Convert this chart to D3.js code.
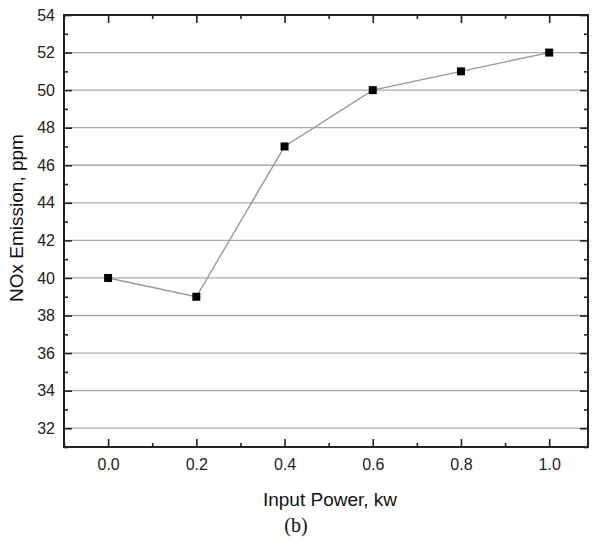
<!DOCTYPE html>
<html><head><meta charset="utf-8">
<script src="https://cdn.jsdelivr.net/npm/d3@7"></script>
<style>body{margin:0;background:#fff}svg{display:block}</style>
</head><body>
<script>
const powers = [0.0, 0.2, 0.4, 0.6, 0.8, 1.0];
const nox = [40, 39, 47, 50, 51, 52];
const xTicks = [0.0, 0.2, 0.4, 0.6, 0.8, 1.0];
const xMinor = [-0.1, 0.1, 0.3, 0.5, 0.7, 0.9];
const yTicks = [32, 34, 36, 38, 40, 42, 44, 46, 48, 50, 52, 54];
const yMinor = [31, 33, 35, 37, 39, 41, 43, 45, 47, 49, 51, 53];

const W = 594, H = 543;
const L = 64, R = 588, T = 15, B = 447;
const svg = d3.select("body").append("svg").attr("width", W).attr("height", H);
const x = d3.scaleLinear().domain([-0.1, 1.088]).range([L, R]);
const y = d3.scaleLinear().domain([31, 54]).range([B, T]);

// gridlines
svg.append("g").selectAll("line").data(yTicks.filter(d => d < 54)).join("line")
  .attr("x1", L).attr("x2", R).attr("y1", d => y(d)).attr("y2", d => y(d))
  .attr("stroke", "#aaa").attr("stroke-width", 1.3);

function styleAxis(g) {
  g.select(".domain").remove();
  g.selectAll(".tick line").attr("stroke", "#222").attr("stroke-width", 1.6);
  g.selectAll(".tick text").attr("font-family", "Liberation Sans, Arial, sans-serif")
    .attr("font-size", 16).attr("fill", "#222");
}
// bottom
svg.append("g").attr("transform", `translate(0,${B})`)
  .call(d3.axisBottom(x).tickValues(xTicks).tickFormat(d3.format(".1f")).tickSizeInner(-8).tickPadding(12))
  .call(styleAxis);
svg.append("g").attr("transform", `translate(0,${B})`)
  .call(d3.axisBottom(x).tickValues(xMinor).tickFormat("").tickSizeInner(-4)).call(styleAxis);
// top
svg.append("g").attr("transform", `translate(0,${T})`)
  .call(d3.axisTop(x).tickValues(xTicks).tickFormat("").tickSizeInner(-8)).call(styleAxis);
svg.append("g").attr("transform", `translate(0,${T})`)
  .call(d3.axisTop(x).tickValues(xMinor).tickFormat("").tickSizeInner(-4)).call(styleAxis);
// left
svg.append("g").attr("transform", `translate(${L},0)`)
  .call(d3.axisLeft(y).tickValues(yTicks).tickSizeInner(-8).tickPadding(9)).call(styleAxis);
svg.append("g").attr("transform", `translate(${L},0)`)
  .call(d3.axisLeft(y).tickValues(yMinor).tickFormat("").tickSizeInner(-4)).call(styleAxis);
// right
svg.append("g").attr("transform", `translate(${R},0)`)
  .call(d3.axisRight(y).tickValues(yTicks).tickFormat("").tickSizeInner(-8)).call(styleAxis);
svg.append("g").attr("transform", `translate(${R},0)`)
  .call(d3.axisRight(y).tickValues(yMinor).tickFormat("").tickSizeInner(-4)).call(styleAxis);

// frame
svg.append("rect").attr("x", L).attr("y", T).attr("width", R - L).attr("height", B - T)
  .attr("fill", "none").attr("stroke", "#222").attr("stroke-width", 2);

const data = powers.map((p, i) => ({p, v: nox[i]}));
svg.append("path").datum(data)
  .attr("d", d3.line().x(d => x(d.p)).y(d => y(d.v)))
  .attr("fill", "none").attr("stroke", "#999").attr("stroke-width", 1.4);
svg.append("g").selectAll("rect").data(data).join("rect")
  .attr("x", d => x(d.p) - 4).attr("y", d => y(d.v) - 4).attr("width", 8).attr("height", 8)
  .attr("fill", "#000");

svg.append("text").attr("x", 330).attr("y", 506).attr("text-anchor", "middle")
  .attr("font-family", "Liberation Sans, Arial, sans-serif").attr("font-size", 19).attr("fill", "#111")
  .text("Input Power, kw");
svg.append("text").attr("transform", `translate(23,218) rotate(-90)`).attr("text-anchor", "middle")
  .attr("font-family", "Liberation Sans, Arial, sans-serif").attr("font-size", 19).attr("fill", "#111")
  .text("NOx Emission, ppm");
svg.append("text").attr("x", 296).attr("y", 532).attr("text-anchor", "middle")
  .attr("font-family", "Liberation Serif, Times New Roman, serif").attr("font-size", 20).attr("fill", "#111")
  .text("(b)");
</script>
</body></html>
